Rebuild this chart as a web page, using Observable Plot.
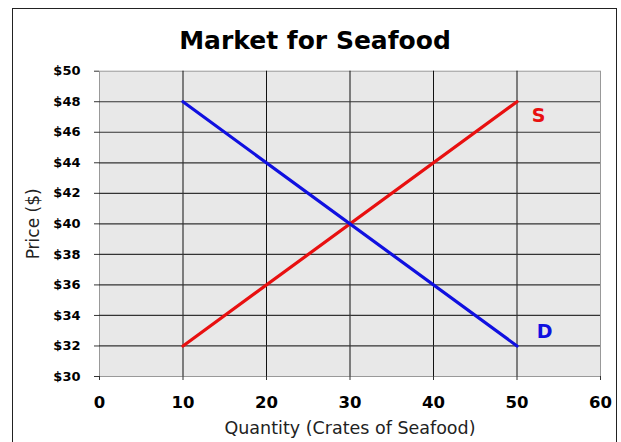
<!DOCTYPE html>
<html>
<head>
<meta charset="utf-8">
<script src="https://cdn.jsdelivr.net/npm/d3@7"></script>
<script src="https://cdn.jsdelivr.net/npm/@observablehq/plot@0.6"></script>
<style>
  html, body { margin: 0; padding: 0; background: #fff; overflow: hidden; }
  #wrap { position: relative; width: 621px; height: 442px; overflow: hidden; font-family: "DejaVu Sans", Verdana, sans-serif; }
  #box { position: absolute; left: 12px; top: 8px; width: 605px; height: 460px; border: 1.5px solid #222; box-sizing: border-box; }
  #title { position: absolute; left: 12px; width: 606px; top: 0; height: 60px; line-height: 82px; text-align: center; font-weight: bold; font-size: 25px; color: #000; }
  #chart { position: absolute; left: 0; top: 60px; }
</style>
</head>
<body>
<div id="wrap">
  <div id="box"></div>
  <div id="title">Market for Seafood</div>
  <div id="chart"></div>
</div>
<script>
// Supply and demand schedules
const quantity = [10, 50];
const supplyPrice = [32, 48];
const demandPrice = [48, 32];

// Axis ticks
const priceTicks = [30, 32, 34, 36, 38, 40, 42, 44, 46, 48, 50];
const quantityTicks = [0, 10, 20, 30, 40, 50, 60];

// Curve labels
const curveLabels = ["S", "D"];
const labelQuantity = [52.6, 53.3];
const labelPrice = [47.1, 32.9];
const curveColors = ["#e81010", "#1010e0"];

const supply = quantity.map((q, i) => ({q, p: supplyPrice[i]}));
const demand = quantity.map((q, i) => ({q, p: demandPrice[i]}));
const labels = curveLabels.map((t, i) => ({t, q: labelQuantity[i], p: labelPrice[i], c: curveColors[i]}));

const chart = Plot.plot({
  width: 621,
  height: 382,
  marginTop: 10.7,
  marginLeft: 99,
  marginRight: 21,
  marginBottom: 66,
  style: {fontFamily: "DejaVu Sans, Verdana, sans-serif", background: "transparent", overflow: "visible"},
  x: {domain: [0, 60]},
  y: {domain: [30, 50]},
  marks: [
    Plot.frame({fill: "#e8e8e8", stroke: "#999"}),
    Plot.ruleX(quantityTicks.filter(d => d > 0 && d < 60), {stroke: "#111", strokeWidth: 1}),
    Plot.ruleY(priceTicks.filter(d => d > 30 && d < 50), {stroke: "#333", strokeWidth: 1.2}),
    Plot.axisY({ticks: priceTicks, tickFormat: d => "$" + d, tickSize: 5, tickPadding: 14, fontWeight: "bold", fontSize: 13, label: null, stroke: "#333"}),
    Plot.axisX({ticks: quantityTicks, tickFormat: d => String(d), tickSize: 4, tickPadding: 15.5, fontWeight: "bold", fontSize: 16.5, label: null, stroke: "#333"}),
    Plot.line(supply, {x: "q", y: "p", stroke: curveColors[0], strokeWidth: 3.2}),
    Plot.line(demand, {x: "q", y: "p", stroke: curveColors[1], strokeWidth: 3.2}),
    Plot.text(labels, {x: "q", y: "p", text: "t", fill: "c", fontSize: 19, fontWeight: "bold"}),
    Plot.text(["Quantity (Crates of Seafood)"], {frameAnchor: "bottom", textAnchor: "middle", dy: 57, fontSize: 17.5, fill: "#222"}),
    Plot.text(["Price ($)"], {frameAnchor: "left", textAnchor: "middle", dx: -66, rotate: -90, fontSize: 17, fill: "#222"})
  ]
});
document.getElementById("chart").appendChild(chart);
</script>
</body>
</html>
